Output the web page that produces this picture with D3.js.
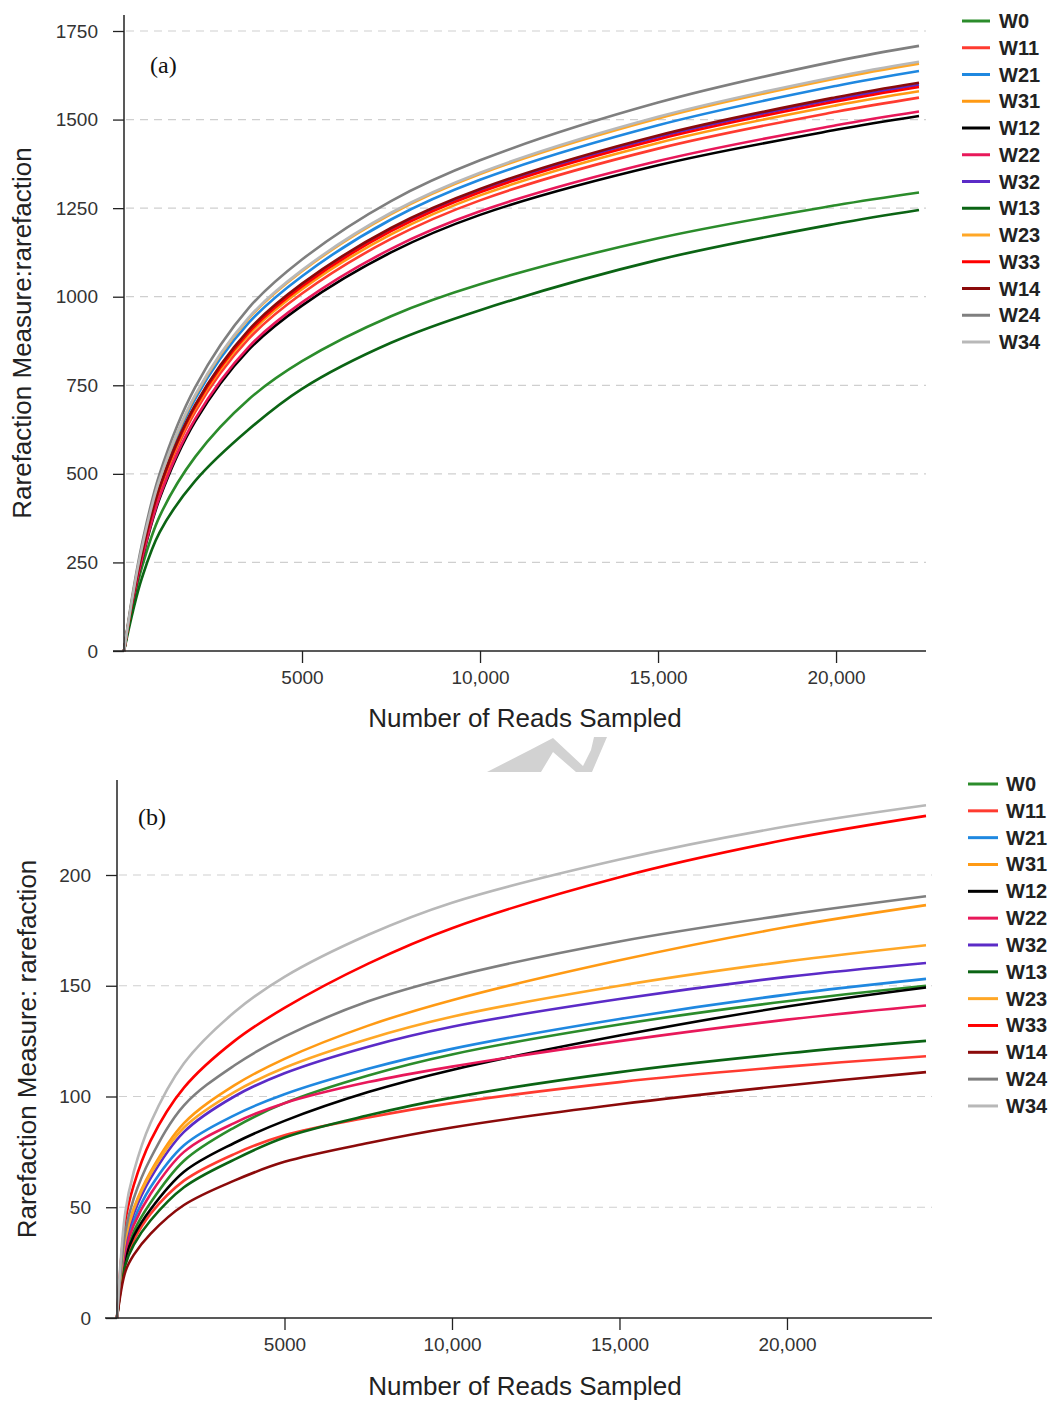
<!DOCTYPE html>
<html>
<head>
<meta charset="utf-8">
<script src="https://cdn.jsdelivr.net/npm/d3@7"></script>
<style>
  body { margin: 0; background: #fff; }
  svg { display: block; }
</style>
</head>
<body>
<script>
// sample names + colours (legend order)
const seriesNames = ["W0", "W11", "W21", "W31", "W12", "W22", "W32", "W13", "W23", "W33", "W14", "W24", "W34"];
const seriesColors = ["#2b8c2b", "#ff3b30", "#1f88e0", "#ff9a14", "#000000", "#e8185a", "#5b2bc7",
                      "#0b6414", "#ffa726", "#ff0000", "#8b0a0a", "#7f7f7f", "#b8b8b8"];

// panel (a): reads sampled and rarefaction values
const readsA = [0, 250, 500, 1000, 2000, 3500, 5000, 7500, 10000, 15000, 20000, 22330];
const aW0  = [0, 130, 235, 380, 548, 710, 818, 945, 1035, 1165, 1258, 1294];
const aW11 = [0, 147, 267, 448, 675, 881, 1009, 1163, 1272, 1418, 1522, 1562];
const aW21 = [0, 156, 284, 475, 712, 926, 1058, 1218, 1330, 1484, 1595, 1637];
const aW31 = [0, 149, 271, 455, 684, 892, 1021, 1176, 1286, 1434, 1540, 1580];
const aW12 = [0, 140, 255, 430, 648, 850, 975, 1125, 1231, 1371, 1471, 1510];
const aW22 = [0, 142, 258, 435, 655, 858, 984, 1135, 1241, 1383, 1484, 1523];
const aW32 = [0, 151, 275, 461, 692, 902, 1033, 1189, 1299, 1450, 1557, 1598];
const aW13 = [0, 112, 205, 335, 480, 625, 740, 870, 962, 1104, 1206, 1245];
const aW23 = [0, 159, 289, 482, 720, 938, 1072, 1233, 1346, 1503, 1616, 1658];
const aW33 = [0, 150, 274, 459, 690, 899, 1029, 1185, 1295, 1444, 1551, 1592];
const aW14 = [0, 152, 276, 463, 695, 906, 1037, 1194, 1304, 1455, 1563, 1604];
const aW24 = [0, 165, 300, 500, 745, 968, 1105, 1270, 1385, 1548, 1665, 1708];
const aW34 = [0, 159, 290, 484, 723, 941, 1075, 1237, 1350, 1508, 1621, 1663];

// panel (b)
const readsB = [0, 250, 500, 1000, 2000, 3500, 5000, 7500, 10000, 15000, 20000, 24150];
const bW0  = [0, 28, 39, 52, 71, 86, 97, 109.5, 119, 132.5, 143, 150];
const bW11 = [0, 25.5, 35, 47, 62, 74, 82.5, 90.5, 97, 106.5, 113.5, 118.2];
const bW21 = [0, 32, 44, 59, 78, 91.5, 101, 112.5, 121.5, 135, 146, 153.1];
const bW31 = [0, 36, 49.5, 66, 88, 105, 117, 132, 143.5, 161.5, 176.5, 186.4];
const bW12 = [0, 27, 37, 49, 66, 79, 89, 102, 112, 127.5, 140.6, 149.2];
const bW22 = [0, 30.5, 42, 56, 75, 88, 97, 106.5, 113.5, 125, 134.7, 141.1];
const bW32 = [0, 34, 47, 63, 84, 100, 110.5, 122.5, 131.5, 144, 154, 160.3];
const bW13 = [0, 24, 33, 44, 59, 71.5, 81.5, 91.5, 99.5, 111, 119.5, 125.1];
const bW23 = [0, 35.5, 49, 65, 86, 102, 113, 126, 136, 150, 161, 168.3];
const bW33 = [0, 44, 60, 80, 104, 125, 140, 160, 176, 199, 216, 226.7];
const bW14 = [0, 21, 28.5, 38, 51, 62, 70.5, 79, 86, 96.5, 105, 111];
const bW24 = [0, 39, 54, 72, 96, 114, 127, 143, 154, 170, 182, 190.4];
const bW34 = [0, 48, 66, 88, 115, 138, 154, 173, 187.5, 207, 222, 231.5];

const yTicksA = [0, 250, 500, 750, 1000, 1250, 1500, 1750];
const yTicksB = [0, 50, 100, 150, 200];
const xTicks = [5000, 10000, 15000, 20000];
const xTickLabels = ["5000", "10,000", "15,000", "20,000"];

const valuesA = [aW0, aW11, aW21, aW31, aW12, aW22, aW32, aW13, aW23, aW33, aW14, aW24, aW34];
const valuesB = [bW0, bW11, bW21, bW31, bW12, bW22, bW32, bW13, bW23, bW33, bW14, bW24, bW34];

const FONT = "'Liberation Sans', Arial, Helvetica, sans-serif";
const W = 1053, H = 1401;

const svg = d3.select("body").append("svg").attr("width", W).attr("height", H);
svg.append("rect").attr("width", W).attr("height", H).attr("fill", "#fff");

// watermark fragment between the panels
svg.append("path")
  .attr("d", "M487,772 L530,750 L553,738 L583,766 L591,750 L594,737 L607,737 L592,772 L576,772 L553,752 L541,772 Z")
  .attr("fill", "#d2d2d2");

function drawPanel(reads, values, o) {
  const x = d3.scaleLinear().domain([0, reads[reads.length - 1]]).range([o.x0, o.x1]);
  const y = d3.scaleLinear().domain([0, o.yMax]).range([o.y0, o.y1]);
  const g = svg.append("g");

  // dashed grid
  g.selectAll(".grid").data(o.yTicks.filter(d => d > 0)).enter()
    .append("line")
    .attr("x1", o.x0 + 2).attr("x2", o.gridEnd)
    .attr("y1", d => y(d)).attr("y2", d => y(d))
    .attr("stroke", "#cfcfcf").attr("stroke-width", 1.2)
    .attr("stroke-dasharray", "8,6");

  // curves
  const line = d3.line()
    .x((d, i) => x(reads[i]))
    .y(d => y(d))
    .curve(d3.curveCatmullRom.alpha(0.5));
  g.selectAll(".curve").data(values).enter()
    .append("path")
    .attr("d", line)
    .attr("fill", "none")
    .attr("stroke", (d, i) => seriesColors[i])
    .attr("stroke-width", 2.6);

  // axes
  const ya = g.append("g").attr("transform", `translate(${o.x0},0)`)
    .call(d3.axisLeft(y).tickValues(o.yTicks).tickFormat(d3.format("d")).tickSize(11).tickPadding(15));
  const xa = g.append("g").attr("transform", `translate(0,${o.y0})`)
    .call(d3.axisBottom(x).tickValues(xTicks).tickFormat((d, i) => xTickLabels[i]).tickSize(12).tickPadding(8));
  [ya, xa].forEach(a => {
    a.select(".domain").remove();
    a.selectAll("line").attr("stroke", "#222").attr("stroke-width", 1.3);
    a.selectAll("text").attr("fill", "#333").style("font-family", FONT).style("font-size", "19px");
  });
  g.append("line").attr("x1", o.x0).attr("x2", o.x0).attr("y1", o.axisTop).attr("y2", o.y0)
    .attr("stroke", "#222").attr("stroke-width", 1.5);
  g.append("line").attr("x1", o.axisLeft).attr("x2", o.axisRight).attr("y1", o.y0).attr("y2", o.y0)
    .attr("stroke", "#222").attr("stroke-width", 1.5);

  // titles
  g.append("text")
    .attr("transform", `translate(${o.yTitleX},${o.yTitleY}) rotate(-90)`)
    .attr("text-anchor", "middle").attr("dominant-baseline", "central")
    .style("font-family", FONT).style("font-size", "26px").attr("fill", "#222")
    .text(o.yTitle);
  g.append("text")
    .attr("x", 525).attr("y", o.xTitleY)
    .attr("text-anchor", "middle")
    .style("font-family", FONT).style("font-size", "26px").attr("fill", "#222")
    .text("Number of Reads Sampled");
  g.append("text")
    .attr("x", o.tagX).attr("y", o.tagY)
    .style("font-family", "'Liberation Serif', 'Times New Roman', serif").style("font-size", "24px").attr("fill", "#111")
    .text(o.tag);

  // legend
  const leg = g.selectAll(".leg").data(seriesNames).enter()
    .append("g").attr("transform", (d, i) => `translate(0,${o.legY + i * o.legStep})`);
  leg.append("line").attr("x1", o.legX).attr("x2", o.legX + o.legLen).attr("y1", 0).attr("y2", 0)
    .attr("stroke", (d, i) => seriesColors[i]).attr("stroke-width", 3);
  leg.append("text").attr("x", o.legTextX).attr("y", 0)
    .attr("dominant-baseline", "central")
    .style("font-family", FONT).style("font-size", "20px").style("font-weight", "bold").attr("fill", "#222")
    .text(d => d);
}

drawPanel(readsA, valuesA, {
  x0: 124, x1: 919, y0: 651, y1: 31, yMax: 1750, yTicks: yTicksA,
  gridEnd: 926, axisTop: 15, axisLeft: 113, axisRight: 926,
  yTitle: "Rarefaction Measure:rarefaction", yTitleX: 22, yTitleY: 333, xTitleY: 727,
  tag: "(a)", tagX: 150, tagY: 73,
  legX: 962, legLen: 28, legTextX: 999, legY: 21, legStep: 26.75
});

drawPanel(readsB, valuesB, {
  x0: 117, x1: 926, y0: 1318, y1: 875, yMax: 200, yTicks: yTicksB,
  gridEnd: 932, axisTop: 780, axisLeft: 105, axisRight: 932,
  yTitle: "Rarefaction Measure: rarefaction", yTitleX: 27, yTitleY: 1049, xTitleY: 1395,
  tag: "(b)", tagX: 138, tagY: 825,
  legX: 968, legLen: 30, legTextX: 1006, legY: 784, legStep: 26.83
});
</script>
</body>
</html>
